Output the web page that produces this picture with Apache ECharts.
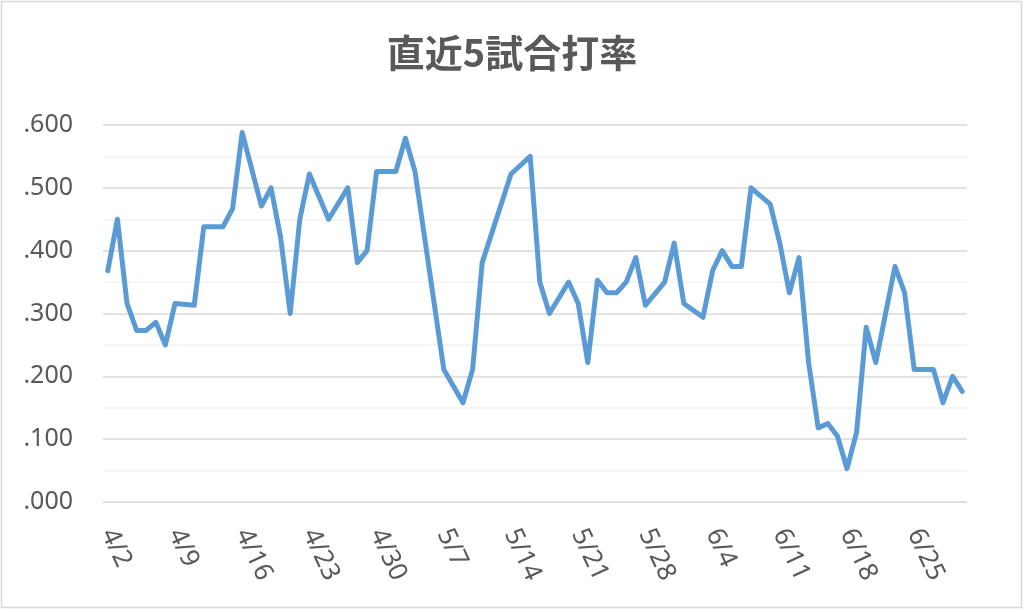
<!DOCTYPE html>
<html>
<head>
<meta charset="utf-8">
<script src="https://cdn.jsdelivr.net/npm/echarts@6/dist/echarts.min.js"></script>
<style>html,body{margin:0;padding:0;background:#fff;}#c{width:1024px;height:612px;}</style>
</head>
<body>
<div id="c"></div>
<script>
const titleText = '直近5試合打率';
const dates = [
 '4/2','4/3','4/4','4/5','4/6','4/7','4/8','4/9','4/10','4/11','4/12','4/13','4/14','4/15','4/16','4/17','4/18','4/19','4/20','4/21','4/22','4/23','4/24','4/25','4/26','4/27','4/28','4/29','4/30',
 '5/1','5/2','5/3','5/4','5/5','5/6','5/7','5/8','5/9','5/10','5/11','5/12','5/13','5/14','5/15','5/16','5/17','5/18','5/19','5/20','5/21','5/22','5/23','5/24','5/25','5/26','5/27','5/28','5/29','5/30','5/31',
 '6/1','6/2','6/3','6/4','6/5','6/6','6/7','6/8','6/9','6/10','6/11','6/12','6/13','6/14','6/15','6/16','6/17','6/18','6/19','6/20','6/21','6/22','6/23','6/24','6/25','6/26','6/27','6/28','6/29','6/30'
];
const avg5 = [
 .368,.450,.316,.273,.273,.286,.250,.316,null,.313,.438,null,.438,.467,.588,null,.471,.500,.421,.300,.450,.522,null,.450,null,.500,.381,.400,.526,
 null,.526,.579,.526,null,null,.211,null,.158,.211,.381,null,null,.522,null,.550,.350,.300,null,.350,.316,.222,.353,.333,.333,.350,.389,.313,null,.350,.412,
 .316,null,.294,.368,.400,.375,.375,.500,null,.474,.412,.333,.389,.222,.118,.125,.105,.053,.111,.278,.222,null,.375,.333,.211,null,.211,.158,.200,.176
];
const yTicks = {min: 0, max: 0.6, interval: 0.1};

const chart = echarts.init(document.getElementById('c'));
chart.setOption({
  backgroundColor: '#ffffff',
  animation: false,
  title: {
    text: titleText, left: 'center', top: 29,
    textStyle: {fontFamily: 'Noto Sans CJK JP', fontSize: 38, fontWeight: 'bold', color: '#595959'}
  },
  graphic: [{
    type: 'rect', shape: {x: 1.5, y: 1.5, width: 1020, height: 606},
    style: {fill: 'none', stroke: '#d9d9d9', lineWidth: 1.5}, silent: true
  }],
  grid: {left: 103, right: 57, top: 125, bottom: 110, containLabel: false},
  xAxis: {
    type: 'category', data: dates, boundaryGap: true,
    axisLine: {show: true, lineStyle: {color: '#d9d9d9', width: 1}},
    axisTick: {show: false},
    axisLabel: {interval: 6, rotate: -65, margin: 28, color: '#595959', fontSize: 26, fontFamily: 'Noto Sans'},
    splitLine: {show: false}
  },
  yAxis: {
    type: 'value', min: yTicks.min, max: yTicks.max, interval: yTicks.interval,
    axisLine: {show: false}, axisTick: {show: false},
    axisLabel: {
      color: '#595959', fontSize: 25, fontFamily: 'Noto Sans', margin: 30,
      formatter: v => v.toFixed(3).replace(/^0/, '')
    },
    splitLine: {show: true, lineStyle: {color: '#d9d9d9', width: 1.5}},
    minorTick: {show: false, splitNumber: 2},
    minorSplitLine: {show: true, lineStyle: {color: '#f2f2f2', width: 1.5}}
  },
  series: [{
    type: 'line', data: avg5, connectNulls: true, showSymbol: false, symbol: 'none',
    lineStyle: {color: '#5b9bd5', width: 5, cap: 'round', join: 'round'}
  }]
});
</script>
</body>
</html>
